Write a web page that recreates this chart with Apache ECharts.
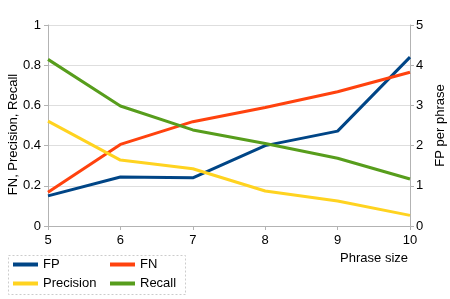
<!DOCTYPE html>
<html><head><meta charset="utf-8">
<script src="https://cdn.jsdelivr.net/npm/echarts@6/dist/echarts.min.js"></script>
<style>html,body{margin:0;padding:0;background:#fff}#c{width:450px;height:299px}</style>
</head><body><div id="c"></div>
<script>
const categories = ['5','6','7','8','9','10'];
const fpValues = [0.75, 1.22, 1.20, 2.0, 2.36, 4.20];
const fnValues = [0.168, 0.406, 0.519, 0.59, 0.668, 0.765];
const precisionValues = [0.522, 0.328, 0.285, 0.174, 0.124, 0.053];
const recallValues = [0.829, 0.597, 0.478, 0.41, 0.337, 0.234];

const FONT = '"Liberation Sans", Arial, sans-serif';
const FS = 13;
const gridColor = '#dedede';
const axisColor = '#b3b3b3';

const chart = echarts.init(document.getElementById('c'), null, {renderer:'canvas'});
const mkSeries = (name, data, color, yi) => ({
  name, type:'line', data, yAxisIndex: yi, symbol:'none',
  lineStyle:{color, width:3}, itemStyle:{color}, animation:false
});
chart.setOption({
  animation:false,
  textStyle:{fontFamily:FONT},
  grid:{left:48, right:40, top:25, bottom:73, containLabel:false, outerBoundsMode:'none'},
  xAxis:{
    type:'category', data:categories, boundaryGap:false,
    axisLine:{lineStyle:{color:axisColor}},
    axisTick:{show:true, length:4, lineStyle:{color:axisColor}},
    axisLabel:{color:'#000', fontSize:FS, fontFamily:FONT, margin:8},
    splitLine:{show:false},
    name:'Phrase size', nameLocation:'end', nameGap:-2, nameMoveOverlap:false,
    nameTextStyle:{color:'#000', fontSize:FS, fontFamily:FONT, align:'right', verticalAlign:'top', padding:[26,0,0,0]}
  },
  yAxis:[{
    type:'value', min:0, max:1, interval:0.2, position:'left',
    axisLine:{show:true, lineStyle:{color:axisColor}},
    axisTick:{show:true, length:4, lineStyle:{color:axisColor}},
    axisLabel:{color:'#000', fontSize:FS, fontFamily:FONT, margin:7},
    splitLine:{show:true, lineStyle:{color:gridColor}},
    name:'FN, Precision, Recall', nameLocation:'middle', nameGap:28, nameMoveOverlap:false,
    nameTextStyle:{color:'#000', fontSize:FS, fontFamily:FONT, padding:[0,18,0,0]}
  },{
    type:'value', min:0, max:5, interval:1, position:'right',
    axisLine:{show:true, lineStyle:{color:axisColor}},
    axisTick:{show:true, length:4, lineStyle:{color:axisColor}},
    axisLabel:{color:'#000', fontSize:FS, fontFamily:FONT, margin:6},
    splitLine:{show:false},
    name:'FP per phrase', nameLocation:'middle', nameGap:24,
    nameTextStyle:{color:'#000', fontSize:FS, fontFamily:FONT}
  }],
  legend:[{
    data:['FP','Precision'], orient:'vertical', left:8, top:253,
    icon:'rect', itemWidth:25, itemHeight:4, itemGap:6,
    textStyle:{color:'#000', fontSize:FS, fontFamily:FONT}
  },{
    data:['FN','Recall'], orient:'vertical', left:105, top:253,
    icon:'rect', itemWidth:25, itemHeight:4, itemGap:6,
    textStyle:{color:'#000', fontSize:FS, fontFamily:FONT}
  }],
  graphic:[{
    type:'rect', left:6, top:253, shape:{width:177, height:39},
    style:{fill:'none', stroke:'#cccccc', lineWidth:1, lineDash:[2,2]}, silent:true
  }],
  series:[
    mkSeries('FP', fpValues, '#004586', 1),
    mkSeries('FN', fnValues, '#ff420e', 0),
    mkSeries('Precision', precisionValues, '#ffd320', 0),
    mkSeries('Recall', recallValues, '#579d1c', 0)
  ]
});
</script></body></html>
